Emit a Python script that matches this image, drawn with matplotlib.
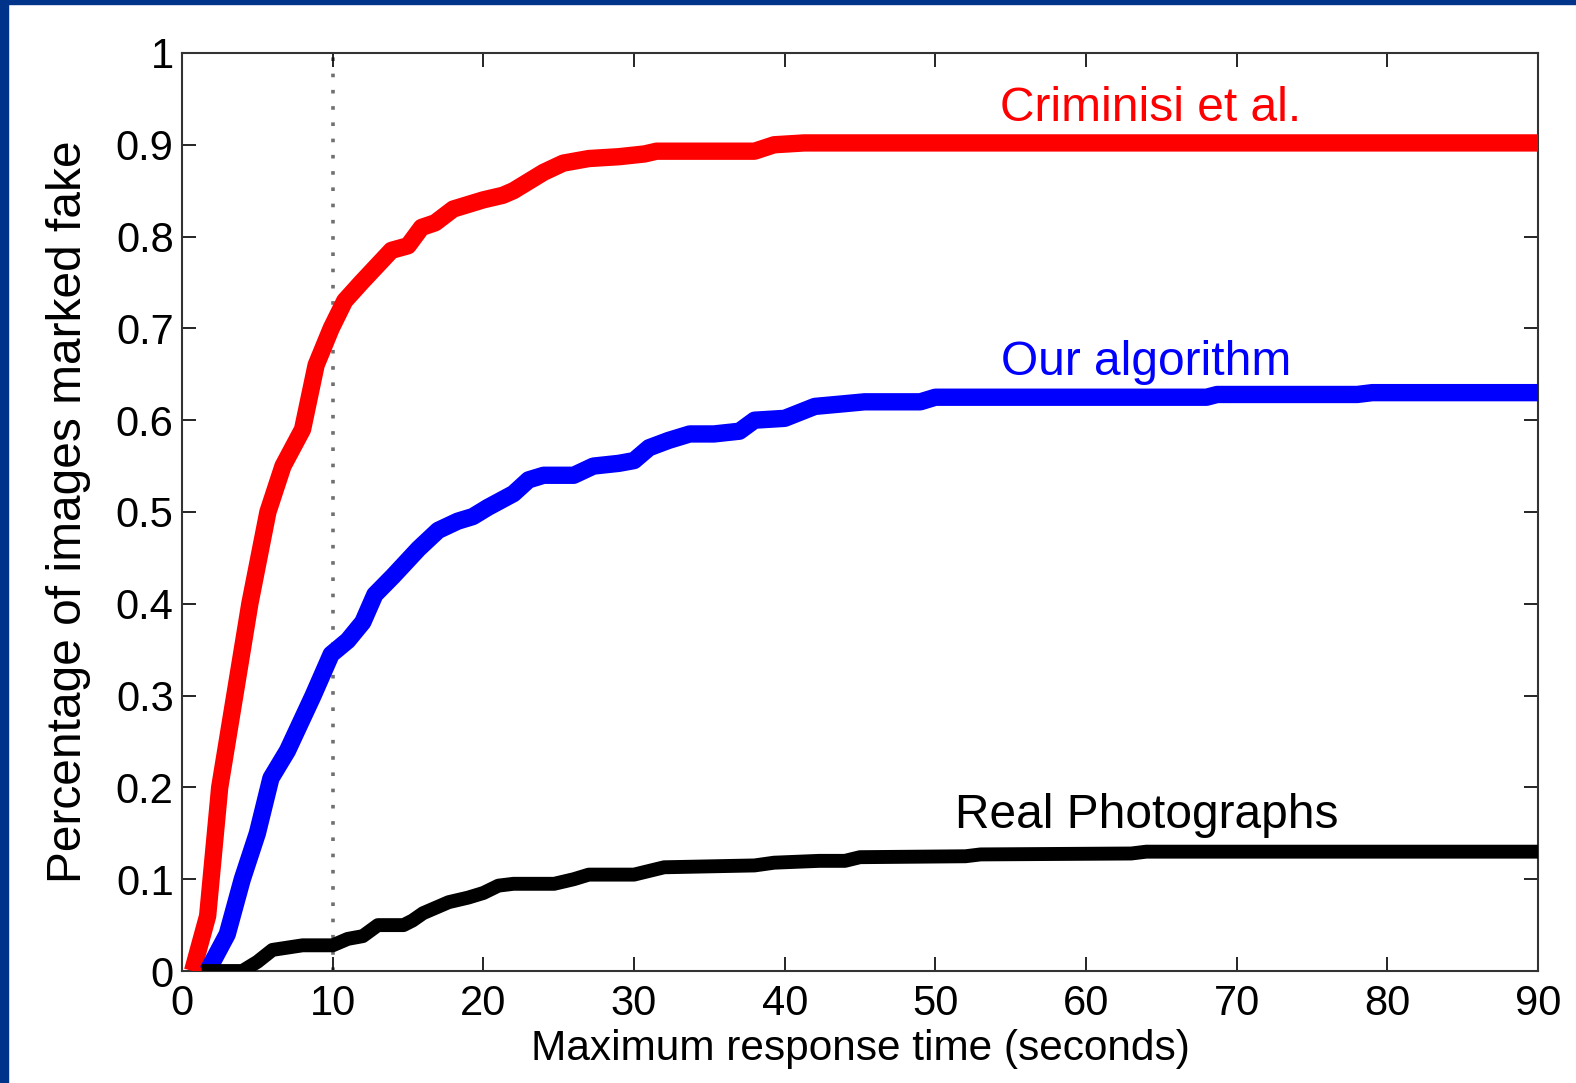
import matplotlib.pyplot as plt
from matplotlib.patches import Rectangle

plt.rcParams['font.family'] = ['Liberation Sans', 'DejaVu Sans']

# Data
crim_t = [0.7, 1.7, 2.5, 3.5, 4.5, 5.7, 6.7, 8.0, 8.9, 9.9, 10.8, 11.9, 13.9, 15.0,
          15.9, 16.8, 18.0, 20.0, 21.3, 22.0, 24.0, 25.3, 27.0, 29.0, 30.7, 31.5,
          38.0, 39.3, 41.3, 90.0]
crim_v = [0.0, 0.06, 0.2, 0.3, 0.4, 0.5, 0.55, 0.59, 0.66, 0.7, 0.73, 0.75, 0.785, 0.79,
          0.81, 0.815, 0.83, 0.84, 0.845, 0.85, 0.87, 0.88, 0.885, 0.887, 0.89, 0.893,
          0.893, 0.9, 0.902, 0.902]

ours_t = [1.7, 3.0, 4.0, 5.0, 5.9, 7.0, 8.7, 9.9, 11.0, 12.0, 12.8, 14.0, 15.7, 17.0,
          18.3, 19.3, 20.3, 22.0, 23.0, 24.0, 26.0, 27.3, 29.0, 30.0, 31.0, 32.3, 33.7,
          35.3, 37.0, 38.0, 40.0, 42.0, 44.0, 45.3, 49.0, 50.0, 68.0, 68.7, 78.0, 79.0, 90.0]
ours_v = [0.0, 0.04, 0.1, 0.15, 0.21, 0.24, 0.3, 0.345, 0.36, 0.38, 0.41, 0.43, 0.46, 0.48,
          0.49, 0.495, 0.505, 0.52, 0.535, 0.54, 0.54, 0.55, 0.553, 0.556, 0.57, 0.578, 0.585,
          0.585, 0.588, 0.6, 0.602, 0.615, 0.618, 0.62, 0.62, 0.625, 0.625, 0.628, 0.628, 0.63, 0.63]

real_t = [1.3, 4.0, 5.0, 6.0, 8.0, 10.0, 11.0, 12.0, 13.0, 14.7, 15.3, 16.0, 17.7, 19.0,
          20.0, 21.0, 22.0, 24.7, 26.0, 27.0, 30.0, 32.0, 38.0, 39.3, 42.3, 44.0, 45.0,
          52.0, 53.0, 63.0, 64.0, 90.0]
real_v = [0.0, 0.0, 0.01, 0.023, 0.028, 0.028, 0.035, 0.038, 0.05, 0.05, 0.055, 0.063,
          0.075, 0.08, 0.085, 0.093, 0.095, 0.095, 0.1, 0.105, 0.105, 0.113, 0.115, 0.118,
          0.12, 0.12, 0.124, 0.125, 0.127, 0.128, 0.13, 0.13]

x_ticks = list(range(0, 91, 10))
y_ticks = [0, 0.1, 0.2, 0.3, 0.4, 0.5, 0.6, 0.7, 0.8, 0.9, 1]
y_tick_labels = ['0', '0.1', '0.2', '0.3', '0.4', '0.5', '0.6', '0.7', '0.8', '0.9', '1']

fig = plt.figure(figsize=(15.76, 10.83), dpi=100)
fig.patch.set_facecolor('white')

# Slide border (blue strip at the left and top)
fig.patches.append(Rectangle((0, 0), 8 / 1576, 1, transform=fig.transFigure,
                             color='#00338A', zorder=0))
fig.patches.append(Rectangle((0, 1 - 4 / 1083), 1, 4 / 1083, transform=fig.transFigure,
                             color='#00338A', zorder=0))

ax = fig.add_axes([0.1155, 0.1034, 0.8604, 0.8477])

ax.axvline(10, color='#707070', linestyle=(0, (1, 3.5)), linewidth=2.6, zorder=1)

ax.plot(crim_t, crim_v, color='#FF0000', linewidth=12.5, solid_joinstyle='round',
        solid_capstyle='butt', zorder=3)
ax.plot(ours_t, ours_v, color='#0000FF', linewidth=12.5, solid_joinstyle='round',
        solid_capstyle='butt', zorder=3)
ax.plot(real_t, real_v, color='black', linewidth=10, solid_joinstyle='round',
        solid_capstyle='butt', zorder=3)

ax.text(64.3, 0.939, 'Criminisi et al.', color='#FF0000', fontsize=34.5, ha='center', va='center')
ax.text(64.0, 0.663, 'Our algorithm', color='#0000FF', fontsize=34.5, ha='center', va='center')
ax.text(64.0, 0.169, 'Real Photographs', color='black', fontsize=34.5, ha='center', va='center')

ax.set_xlim(0, 90)
ax.set_ylim(0, 1)
ax.set_xticks(x_ticks)
ax.set_yticks(y_ticks)
ax.set_yticklabels(y_tick_labels)
ax.tick_params(direction='in', length=10, width=1.2, labelsize=30, top=True, right=True)
ax.tick_params(axis='x', pad=9)
ax.tick_params(axis='y', pad=6)
for s in ax.spines.values():
    s.set_linewidth(1.5)
    s.set_color('#333333')

ax.set_xlabel('Maximum response time (seconds)', fontsize=30.5, labelpad=4)
ax.set_ylabel('Percentage of images marked fake', fontsize=34.5, labelpad=18)

fig.savefig('out.png', dpi=100, facecolor='white')
